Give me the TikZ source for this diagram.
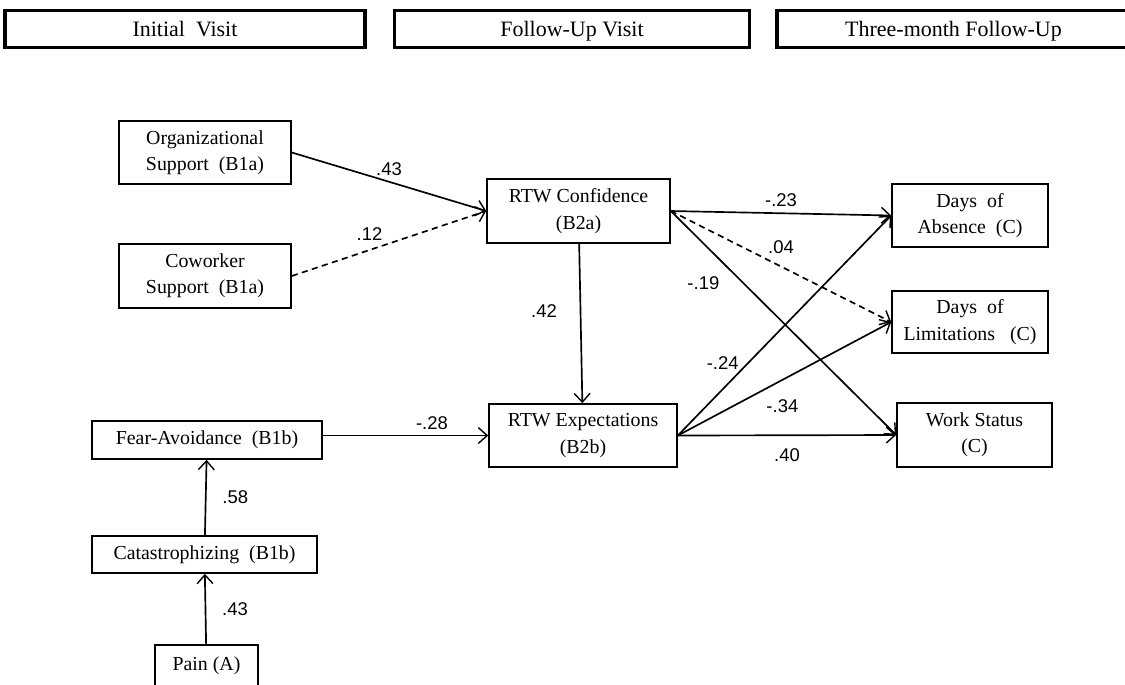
\documentclass[tikz,border=0pt]{standalone}
\usepackage{fontspec}
\setmainfont{Liberation Serif}
\newfontfamily\labfont{Liberation Sans}
\usetikzlibrary{arrows.meta}
\begin{document}
\begin{tikzpicture}[x=0.02cm,y=-0.02cm,
    box/.style={draw,line width=0.95pt,align=center,inner sep=0pt,
        font=\fontsize{11.3}{15}\selectfont},
    hdr/.style={draw,line width=1.8pt,inner sep=0pt,minimum height=0.74cm,
        text height=2.2ex,text depth=.45ex,
        font=\fontsize{12.5}{15}\selectfont},
    eff/.style={->,line width=0.95pt},
    ns/.style={eff,dash pattern=on 3.5pt off 2.5pt},
    lab/.style={font=\labfont\fontsize{10.5}{12}\selectfont,inner sep=1pt},
    >={Straight Barb[length=5pt,width=9pt,line width=0.8pt]}]

    \useasboundingbox (0,0) rectangle (1125,684);
    \clip (0,0) rectangle (1125,684);

    % time points
    \node[hdr,minimum width=7.2cm] (t1) at (185,29) {Initial~ Visit};
    \node[hdr,minimum width=7.1cm] (t2) at (572,29) {Follow-Up Visit};
    \node[hdr,minimum width=7.06cm] (t3) at (953.5,29) {Three-month Follow-Up};

    % variables
    \node[box,minimum width=3.44cm,minimum height=1.26cm] (org) at (205,152.5)
        {Organizational\\Support~ (B1a)};
    \node[box,minimum width=3.44cm,minimum height=1.28cm] (cow) at (205,276)
        {Coworker\\Support~ (B1a)};
    \node[box,minimum width=3.66cm,minimum height=1.28cm] (conf) at (578.5,211)
        {RTW Confidence\\(B2a)};
    \node[box,minimum width=3.76cm,minimum height=1.26cm] (exp) at (583,435.5)
        {RTW Expectations\\(B2b)};
    \node[box,minimum width=3.12cm,minimum height=1.26cm] (abs) at (970,215.5)
        {Days~ of\\Absence~ (C)};
    \node[box,minimum width=3.12cm,minimum height=1.24cm] (lim) at (970,322)
        {Days~ of\\Limitations~~ (C)};
    \node[box,minimum width=3.1cm,minimum height=1.28cm] (work) at (974.5,435)
        {Work Status\\(C)};
    \node[box,minimum width=4.6cm,minimum height=0.76cm] (fear) at (207,440)
        {Fear-Avoidance~ (B1b)};
    \node[box,minimum width=4.5cm,minimum height=0.74cm] (cat) at (204.5,554.5)
        {Catastrophizing~ (B1b)};
    \node[box,minimum width=2.06cm,minimum height=0.84cm] (pain) at (206.5,666)
        {Pain (A)};

    % paths
    \draw[eff] (org.east) to node[lab,midway,above=2pt]{.43} (conf.west);
    \draw[ns] (cow.east) to node[lab,pos=0.4,above=4pt]{.12} (conf.west);
    \draw[eff] (conf) to node[lab,pos=0.42,left=12pt]{.42} (exp);
    \draw[eff] (conf.east) to node[lab,midway,above=2pt]{-.23} (abs.west);
    \draw[ns] (conf.east) to node[lab,pos=0.5,above=6pt]{.04} (lim.west);
    \draw[eff] (conf.east) to node[lab,pos=0.32,left=12pt]{-.19} (work.west);
    \draw[eff] (exp.east) to node[lab,pos=0.33,left=4pt]{-.24} (abs.west);
    \draw[eff] (exp.east) to node[lab,pos=0.49,below=10pt]{-.34} (lim.west);
    \draw[eff] (exp.east) to node[lab,midway,below=6pt]{.40} (work.west);
    \draw[eff] (fear.east|-exp.west) to node[lab,pos=0.66,above=2pt]{-.28} (exp.west);
    \draw[eff] (cat) to node[lab,midway,right=8pt]{.58} (fear);
    \draw[eff] (pain) to node[lab,midway,right=8pt]{.43} (cat);
\end{tikzpicture}
\end{document}
